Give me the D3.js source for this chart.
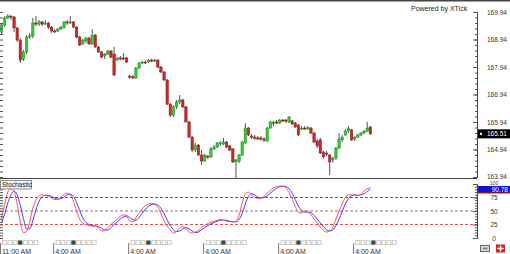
<!DOCTYPE html>
<html><head><meta charset="utf-8">
<script src="https://cdn.jsdelivr.net/npm/d3@7"></script>
<style>body{margin:0;background:#fff;overflow:hidden}svg{display:block;font-family:"Liberation Sans",Arial,sans-serif}</style>
</head><body><svg id="c" width="510" height="254"></svg>
<script>
const opens = [169.21,169.47,169.72,169.79,169.76,169.36,168.92,168.23,168.49,169.03,
169.07,169.54,169.50,169.58,169.50,169.54,169.39,169.25,169.25,169.32,
169.39,169.58,169.54,169.58,169.39,169.03,168.78,168.89,168.99,168.78,
169.10,168.67,168.49,168.34,168.41,168.52,168.41,168.19,168.27,168.27,
168.27,167.61,167.58,167.54,167.90,168.09,168.12,168.12,168.19,168.16,
168.19,167.94,167.76,167.47,166.59,166.19,166.49,166.67,166.74,166.49,
165.94,165.39,164.92,165.10,164.74,164.52,164.70,164.67,164.96,165.03,
165.14,165.14,165.21,165.07,164.96,164.49,164.52,164.74,165.18,165.72,
165.43,165.39,165.36,165.36,165.32,165.25,165.72,165.87,165.94,165.90,
166.01,166.01,165.94,165.98,165.90,165.83,165.69,165.72,165.72,165.72,
165.54,165.25,165.29,164.85,164.81,164.74,164.56,164.63,164.99,165.29,
165.47,165.61,165.65,165.32,165.39,165.47,165.54,165.61,165.76];
const highs = [169.54,169.79,169.87,169.83,169.79,169.39,168.99,168.56,169.10,169.18,
169.72,169.79,169.65,169.61,169.65,169.58,169.43,169.32,169.36,169.43,
169.61,169.65,169.79,169.61,169.43,169.07,168.96,169.03,169.03,169.32,
169.14,168.70,168.52,168.45,168.56,168.56,168.67,168.30,168.34,168.45,
168.30,167.65,167.65,167.94,168.12,168.16,168.19,168.23,168.23,168.23,
168.23,167.98,167.79,167.50,166.63,166.56,166.74,166.92,166.78,166.52,
165.98,165.43,165.18,165.14,164.92,164.78,164.74,165.03,165.10,165.21,
165.25,165.36,165.25,165.10,164.99,164.59,164.78,165.25,165.90,165.76,
165.50,165.47,165.43,165.43,165.39,165.76,165.98,165.98,166.01,166.05,
166.05,166.05,166.16,166.01,165.94,165.87,165.79,165.79,165.79,165.76,
165.58,165.32,165.36,164.89,164.89,164.78,164.67,165.03,165.54,165.47,
165.69,165.79,165.69,165.43,165.50,165.58,165.65,165.94,165.79];
const lows = [169.14,169.39,169.69,169.65,169.21,168.85,168.09,168.16,168.41,168.96,
168.99,169.43,169.43,169.43,169.47,169.32,169.18,169.18,169.21,169.29,
169.32,169.47,169.50,169.36,168.99,168.70,168.74,168.81,168.74,168.74,
168.63,168.45,168.27,168.23,168.38,168.27,167.61,168.16,168.19,168.19,
168.09,167.50,167.50,167.50,167.87,168.05,168.05,168.09,168.12,168.12,
167.90,167.72,167.43,166.56,166.12,166.12,166.41,166.59,166.45,165.98,
165.36,164.85,164.85,164.70,164.38,164.49,164.59,164.63,164.92,164.99,
165.07,165.10,164.99,164.89,164.45,163.90,164.45,164.70,165.14,165.43,
165.32,165.29,165.29,165.25,165.21,165.21,165.69,165.79,165.87,165.87,
165.94,165.90,165.90,165.83,165.72,165.43,165.65,165.65,165.65,165.50,
165.18,164.99,164.78,164.63,164.70,164.01,164.45,164.56,164.96,165.21,
165.43,165.54,165.25,165.25,165.36,165.43,165.50,165.58,165.47];
const closes = [169.47,169.72,169.79,169.76,169.36,168.92,168.19,168.49,169.03,169.07,
169.54,169.50,169.58,169.50,169.54,169.39,169.25,169.24,169.32,169.39,
169.58,169.54,169.58,169.39,169.03,168.74,168.92,168.99,168.78,169.10,
168.67,168.49,168.30,168.41,168.52,168.30,167.65,168.27,168.26,168.23,
168.12,167.58,167.57,167.90,168.09,168.12,168.09,168.19,168.16,168.19,
167.94,167.76,167.47,166.59,166.19,166.49,166.67,166.74,166.49,165.94,
165.39,164.92,165.10,164.74,164.52,164.74,164.67,164.96,165.03,165.18,
165.18,165.21,165.03,164.92,164.49,164.56,164.74,165.21,165.72,165.47,
165.39,165.36,165.35,165.32,165.29,165.72,165.94,165.94,165.93,166.01,
166.00,165.98,166.12,165.87,165.76,165.47,165.72,165.71,165.73,165.54,
165.21,165.07,164.81,164.67,164.78,164.49,164.63,164.99,165.32,165.39,
165.61,165.72,165.29,165.39,165.47,165.54,165.61,165.72,165.51];
const stochK = [36,62,85,91,86,62,30,10,12,30,
55,70,78,80,79,77,74,71,72,76,
81,83,80,68,50,35,27,25,23,22,
22,18,13,14,19,25,30,35,40,43,
40,32,30,38,46,54,60,63,64,62,
57,45,32,22,15,9,12,18,21,18,
11,9,11,14,19,23,27,29,31,33,
34,33,31,30,30,31,42,65,82,85,
80,75,73,74,77,83,88,93,95,96,
96,93,84,72,58,48,46,50,49,43,
35,28,20,14,11,13,20,35,50,63,
75,80,80,79,79,81,87,91,93];
const stochD = [28,45,65,80,87,80,60,36,17,17,
32,52,68,76,79,79,77,74,72,73,
76,80,81,77,66,51,37,29,25,23,
22,21,18,15,15,19,25,30,35,39,
41,38,34,33,38,46,53,59,62,63,
61,55,45,33,23,15,12,13,17,19,
17,13,10,11,15,19,23,26,29,31,
33,33,33,31,30,30,34,46,63,77,
82,80,76,74,75,78,83,88,92,95,
96,95,91,83,71,59,51,48,48,47,
42,35,28,21,15,13,15,23,35,49,
63,73,78,80,79,80,82,86,90.78];
const priceTicks = [163.94,164.94,165.94,166.94,167.94,168.94,169.94];
const stochTicks = [0,25,50,75,100];
const stochLevels = [75,50,25];
const tickHours = [0,17,41,65,89,113];
const tickTimeLabels = ["11:00 AM","4:00 AM","4:00 AM","4:00 AM","4:00 AM","4:00 AM"];
const tickDateLabels = ["\u25A1\u25A1\u25A1\u25A0\u25A1\u25A1\u25A1","\u25A1\u25A1\u25A1\u25A0\u25A1\u25A1\u25A1\u25A1","\u25A1\u25A1\u25A1\u25A0\u25A1\u25A1\u25A1\u25A1","\u25A1\u25A1\u25A1\u25A0\u25A1\u25A1\u25A1\u25A1","\u25A1\u25A1\u25A1\u25A0\u25A1\u25A1\u25A1\u25A1","\u25A1\u25A1\u25A1\u25A0\u25A1\u25A1\u25A1\u25A1"];
const lastPrice = 165.51;
const lastStoch = 90.78;

const HOUR = 3600e3;
const t0 = Date.UTC(2010, 2, 1, 11, 0);
const data = opens.map((o, i) => ({t: new Date(t0 + (i + 0.5) * HOUR), o, h: highs[i], l: lows[i], c: closes[i], k: stochK[i], d: stochD[i]}));

const svg = d3.select("#c");
const W = 510, AX = 477;
const x = d3.scaleUtc().domain([new Date(t0), new Date(t0 + 153 * HOUR)]).range([0, 153 * 3.125]);
const y = d3.scaleLinear().domain([163.94, 169.94]).range([177, 12]);
const ys = d3.scaleLinear().domain([0, 100]).range([238, 184]);

svg.append("rect").attr("width", W).attr("height", 254).attr("fill", "#fff");

const defs = svg.append("defs");
defs.append("clipPath").attr("id", "cm").append("rect").attr("x", 0).attr("y", 1).attr("width", AX).attr("height", 177);
defs.append("clipPath").attr("id", "cs").append("rect").attr("x", 0).attr("y", 179).attr("width", AX).attr("height", 60);

// candles
const gC = svg.append("g").attr("clip-path", "url(#cm)");
const cg = gC.selectAll("g").data(data).join("g");
cg.append("line")
  .attr("x1", d => x(d.t)).attr("x2", d => x(d.t))
  .attr("y1", d => y(d.h)).attr("y2", d => y(d.l))
  .attr("stroke", "#555").attr("stroke-width", 1);
cg.append("rect")
  .attr("x", d => x(d.t) - 1.2).attr("width", 2.4)
  .attr("y", d => y(Math.max(d.o, d.c)))
  .attr("height", d => Math.max(1, Math.abs(y(d.o) - y(d.c))))
  .attr("fill", d => d.c >= d.o ? "#33cc33" : "#cc2828")
  .attr("stroke", d => d.c >= d.o ? "#1d8a1d" : "#861616").attr("stroke-width", 0.5);

// stochastic
const gS = svg.append("g").attr("clip-path", "url(#cs)");
const lvlColors = ["#4a4aff", "#8a6a9a", "#e05050"];
gS.selectAll("line.lvl").data(stochLevels).join("line").attr("class", "lvl")
  .attr("x1", 0).attr("x2", AX).attr("y1", d => ys(d)).attr("y2", d => ys(d))
  .attr("stroke", (d, i) => lvlColors[i]).attr("stroke-dasharray", "3,2").attr("stroke-width", 1);
const lk = d3.line().x(d => x(d.t)).y(d => ys(d.k)).curve(d3.curveMonotoneX);
const ld = d3.line().x(d => x(d.t)).y(d => ys(d.d)).curve(d3.curveMonotoneX);
gS.append("path").datum(data).attr("d", ld).attr("fill", "none").attr("stroke", "#3b3bff").attr("stroke-width", 1);
gS.append("path").datum(data).attr("d", lk).attr("fill", "none").attr("stroke", "#ff5050").attr("stroke-width", 1);

// frame lines
svg.append("rect").attr("x", 0).attr("y", 0).attr("width", W).attr("height", 1.5).attr("fill", "#444");
svg.append("line").attr("x1", 0).attr("x2", AX).attr("y1", 178.5).attr("y2", 178.5).attr("stroke", "#444");

// price axis right
const minorP = d3.range(163.94, 169.95, 0.2);
svg.append("g").attr("transform", `translate(${AX},0)`)
  .call(d3.axisRight(y).tickValues(minorP).tickSize(-2).tickFormat(""));
const gP = svg.append("g").attr("transform", `translate(${AX},0)`)
  .call(d3.axisRight(y).tickValues(priceTicks).tickSize(-4).tickPadding(10).tickFormat(d3.format(".2f")));
svg.append("g").attr("class", "left").call(d3.axisRight(y).tickValues(minorP).tickSize(3).tickFormat(""));

// stoch axis right
const minorS = d3.range(0, 101, 5);
svg.append("g").attr("transform", `translate(${AX},0)`)
  .call(d3.axisRight(ys).tickValues(minorS).tickSize(-2).tickFormat(""));
const gSa = svg.append("g").attr("transform", `translate(${AX},0)`)
  .call(d3.axisRight(ys).tickValues(stochTicks).tickSize(-4).tickPadding(13).tickFormat(d3.format("d")));
svg.append("g").attr("class", "left").call(d3.axisRight(ys).tickValues(minorS).tickSize(3).tickFormat(""));

svg.selectAll(".domain").attr("stroke", "#444");
svg.selectAll("g.left .domain").attr("stroke", "none");
svg.selectAll(".tick line").attr("stroke", "#555");
svg.selectAll(".tick text").attr("fill", "#333").attr("font-size", "6.5px").attr("font-family", "Liberation Sans, Arial, sans-serif");
gSa.selectAll(".tick text").attr("text-anchor", "middle").attr("x", 17);
// crowded corner: nudge the lowest price label and the 100 label apart
gP.selectAll(".tick").filter(d => d === 163.94).select("text").attr("dy", "0.2em");
gSa.selectAll(".tick").filter(d => d === 100).select("text").attr("dy", "0.1em").attr("font-size", "5px");

// last price box
svg.append("rect").attr("x", AX + 1).attr("y", y(lastPrice) - 4.5).attr("width", W - AX - 1).attr("height", 9).attr("fill", "#000");
svg.append("rect").attr("x", AX + 3).attr("y", y(lastPrice) - 1).attr("width", 2).attr("height", 2).attr("fill", "#fff");
svg.append("text").attr("x", AX + 10).attr("y", y(lastPrice) + 2.3).attr("fill", "#fff").attr("font-size", "6.5px").text(d3.format(".2f")(lastPrice));

// stoch value box
const sy = ys(lastStoch);
svg.append("rect").attr("x", AX + 1).attr("y", sy + 2.5).attr("width", W - AX - 1).attr("height", 2).attr("fill", "#7a1a2a");
svg.append("rect").attr("x", AX + 1).attr("y", sy - 3).attr("width", W - AX - 1).attr("height", 6).attr("fill", "#1010d8");
svg.append("text").attr("x", W - 2).attr("y", sy + 2.6).attr("text-anchor", "end").attr("fill", "#fff").attr("font-size", "6.5px").text(d3.format(".2f")(lastStoch));

// stochastic label
svg.append("rect").attr("x", 0.5).attr("y", 180.5).attr("width", 31).attr("height", 8.5).attr("fill", "#f2f2f2").attr("stroke", "#777").attr("stroke-width", 0.8);
svg.append("text").attr("x", 2).attr("y", 187.2).attr("font-size", "6.5px").attr("fill", "#222").text("Stochastic");

// powered by
svg.append("text").attr("x", 411).attr("y", 10.5).attr("font-size", "7px").attr("fill", "#222").text("Powered by XTick");

// time axis
const tickT = tickHours.map(h => new Date(t0 + h * HOUR));
const gX = svg.append("g");
gX.selectAll("line").data(tickT).join("line")
  .attr("x1", d => x(d) + 0.5).attr("x2", d => x(d) + 0.5).attr("y1", 243).attr("y2", 254)
  .attr("stroke", "#777");
gX.selectAll("text.dt").data(tickT).join("text").attr("class", "dt")
  .attr("x", d => x(d) + 2).attr("y", 244).attr("font-size", "5.5px").attr("fill", "#444")
  .attr("font-family", "DejaVu Sans, sans-serif")
  .text((d, i) => tickDateLabels[i]);
gX.selectAll("text.tm").data(tickT).join("text").attr("class", "tm")
  .attr("x", d => x(d) + 2).attr("y", 254).attr("font-size", "7px").attr("fill", "#333")
  .text((d, i) => tickTimeLabels[i]);

// bottom-right icons
svg.append("rect").attr("x", 480.5).attr("y", 245.5).attr("width", 9).attr("height", 6).attr("fill", "#ddd").attr("stroke", "#666");
svg.append("rect").attr("x", 482.5).attr("y", 247.5).attr("width", 5).attr("height", 2).attr("fill", "#888");
svg.append("rect").attr("x", 496).attr("y", 244.5).attr("width", 9).attr("height", 8).attr("fill", "#d42020");
svg.append("path").attr("d", "M500.5,245.5V251.5M497,248.5H504").attr("stroke", "#fff").attr("stroke-width", 1.4);
</script></body></html>
